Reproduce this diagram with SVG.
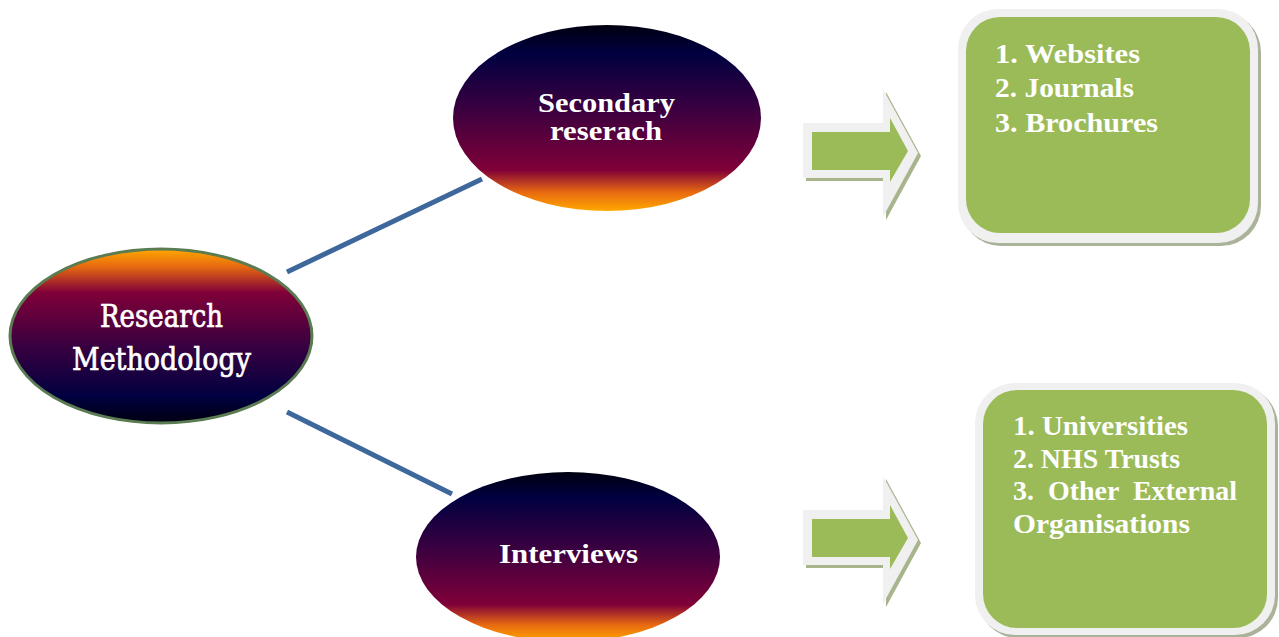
<svg xmlns="http://www.w3.org/2000/svg" width="1279" height="637" viewBox="0 0 1279 637">
<defs>
<linearGradient id="gUp" x1="0" y1="0" x2="0" y2="1">
<stop offset="0" stop-color="#ffa800"/>
<stop offset="0.1" stop-color="#e86a10"/>
<stop offset="0.25" stop-color="#800038"/>
<stop offset="0.55" stop-color="#3a0040"/>
<stop offset="0.85" stop-color="#000040"/>
<stop offset="1" stop-color="#000010"/>
</linearGradient>
<linearGradient id="gDown" x1="0" y1="0" x2="0" y2="1">
<stop offset="0" stop-color="#000010"/>
<stop offset="0.15" stop-color="#000040"/>
<stop offset="0.45" stop-color="#3a0040"/>
<stop offset="0.78" stop-color="#800038"/>
<stop offset="0.9" stop-color="#e86a10"/>
<stop offset="1" stop-color="#ffa800"/>
</linearGradient>
<g id="arrow">
<polygon points="806,126 886,126 886,92 921,156 886,220 886,181 806,181" fill="#a8b48c"/>
<polygon points="803,123 883,123 883,89 918,153 883,217 883,178 803,178" fill="#f0f0f0"/>
<polygon points="812,132 890,132 890,118 908,151 890,182 890,170 812,170" fill="#9bbb59"/>
</g>
</defs>
<style>
.conn{stroke:#3e679c;stroke-width:5;stroke-linecap:butt;fill:none}
.lbl{font-family:"Liberation Serif","DejaVu Serif",serif;font-weight:bold;fill:#ffffff;font-size:28px}
.rm{font-family:"DejaVu Serif","Liberation Serif",serif;fill:#ffffff;font-size:31px;stroke:#ffffff;stroke-width:0.7}
.item{font-family:"Liberation Serif","DejaVu Serif",serif;font-weight:bold;fill:#ffffff;font-size:28px}
.shadow{fill:#aab39a}
.outer{fill:#f0f0f0}
.inner{fill:#9bbb59}
</style>
<g id="connectors">
<line class="conn" x1="287" y1="272" x2="482" y2="179"/>
<line class="conn" x1="287" y1="412" x2="452" y2="494"/>
</g>
<g id="node-research-methodology">
<ellipse cx="161" cy="336" rx="151" ry="87" fill="url(#gUp)" stroke="#5b7b52" stroke-width="3"/>
<text class="rm" x="100" y="327" textLength="123" lengthAdjust="spacingAndGlyphs">Research</text>
<text class="rm" x="72" y="370" textLength="179" lengthAdjust="spacingAndGlyphs">Methodology</text>
</g>
<g id="node-secondary">
<ellipse cx="607" cy="118" rx="154" ry="93" fill="url(#gDown)"/>
<text class="lbl" x="538" y="112" textLength="137" lengthAdjust="spacingAndGlyphs">Secondary</text>
<text class="lbl" x="550" y="140" textLength="112" lengthAdjust="spacingAndGlyphs">reserach</text>
</g>
<g id="node-interviews">
<ellipse cx="568" cy="557" rx="152" ry="85" fill="url(#gDown)"/>
<text class="lbl" x="499" y="563" textLength="139" lengthAdjust="spacingAndGlyphs">Interviews</text>
</g>
<g id="arrow-1">
<use href="#arrow"/>
</g>
<g id="arrow-2">
<use href="#arrow" transform="translate(0,387)"/>
</g>
<g id="box-secondary-sources">
<rect class="shadow" x="961" y="12" width="300" height="234" rx="40"/>
<rect class="outer" x="958" y="9" width="300" height="234" rx="40"/>
<rect class="inner" x="966" y="17" width="284" height="216" rx="34"/>
<text class="item" x="995" y="63" textLength="145" lengthAdjust="spacingAndGlyphs">1. Websites</text>
<text class="item" x="995" y="97" textLength="139" lengthAdjust="spacingAndGlyphs">2. Journals</text>
<text class="item" x="995" y="132" textLength="163" lengthAdjust="spacingAndGlyphs">3. Brochures</text>
</g>
<g id="box-interview-sources">
<rect class="shadow" x="978" y="386" width="300" height="252" rx="40"/>
<rect class="outer" x="975" y="383" width="300" height="252" rx="40"/>
<rect class="inner" x="983" y="390" width="284" height="238" rx="34"/>
<text class="item" x="1013" y="435" textLength="175" lengthAdjust="spacingAndGlyphs">1. Universities</text>
<text class="item" x="1013" y="468" textLength="167" lengthAdjust="spacingAndGlyphs">2. NHS Trusts</text>
<text class="item" x="1013" y="500" textLength="224" lengthAdjust="spacingAndGlyphs" xml:space="preserve">3.  Other  External</text>
<text class="item" x="1013" y="533" textLength="177" lengthAdjust="spacingAndGlyphs">Organisations</text>
</g>
</svg>
